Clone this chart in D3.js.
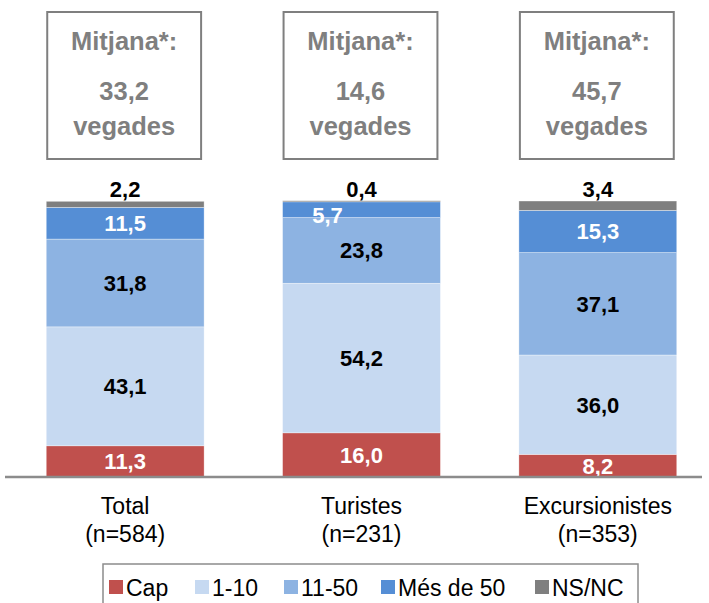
<!DOCTYPE html>
<html>
<head>
<meta charset="utf-8">
<script src="https://cdn.jsdelivr.net/npm/d3@7"></script>
<style>
body { margin: 0; background: #fff; }
text { font-family: "Liberation Sans", Arial, sans-serif; }
</style>
</head>
<body>
<div id="container"></div>
<script>
// data
var groups = ["Total", "Turistes", "Excursionistes"];
var sizes = ["(n=584)", "(n=231)", "(n=353)"];
var means = ["33,2", "14,6", "45,7"];
var seriesNames = ["Cap", "1-10", "11-50", "Més de 50", "NS/NC"];
var colors = ["#C0504D", "#C6D9F1", "#8DB3E2", "#558ED5", "#7F7F7F"];
var cap = [11.3, 16.0, 8.2];
var d1_10 = [43.1, 54.2, 36.0];
var d11_50 = [31.8, 23.8, 37.1];
var mes50 = [11.5, 5.7, 15.3];
var nsnc = [2.2, 0.4, 3.4];
var labelColors = ["#fff", "#000", "#000", "#fff", "#000"];

var width = 709, height = 603;
var svg = d3.select("#container").append("svg")
	.attr("width", width)
	.attr("height", height);

var x = d3.scaleBand().domain(groups).range([7, 716]).paddingInner(0.332).paddingOuter(0.166);
var y = d3.scaleLinear().domain([0, 100]).range([477, 201]);

var table = groups.map(function(g, i) {
	return {group: g, "Cap": cap[i], "1-10": d1_10[i], "11-50": d11_50[i], "Més de 50": mes50[i], "NS/NC": nsnc[i]};
});
var stacked = d3.stack().keys(seriesNames)(table);
var fmt = function(v) { return d3.format(".1f")(v).replace(".", ","); };

// bars
stacked.forEach(function(layer, li) {
	svg.append("g").selectAll("rect").data(layer).enter()
		.append("rect")
		.attr("x", function(d) { return x(d.data.group); })
		.attr("width", x.bandwidth())
		.attr("y", function(d) { return y(d[1]); })
		.attr("height", function(d) { return y(d[0]) - y(d[1]); })
		.style("fill", colors[li])
		.style("stroke", "#fff")
		.style("stroke-width", 0.6)
		.style("stroke-opacity", 0.6);
});

// value labels
stacked.forEach(function(layer, li) {
	svg.append("g").selectAll("text").data(layer).enter()
		.append("text")
		.attr("x", function(d) {
			var cx = x(d.data.group) + x.bandwidth() / 2;
			// small segment in Turistes: label sits to the left
			if (li == 3 && d[1] - d[0] < 8) cx -= 34;
			return cx;
		})
		.attr("y", function(d) {
			if (li == 4) return y(d[1]) - 4;
			var mid = (y(d[0]) + y(d[1])) / 2;
			if (li == 3 && d[1] - d[0] < 8) return mid + 13;
			return mid + 8;
		})
		.attr("text-anchor", "middle")
		.style("font-size", "22px")
		.style("font-weight", "bold")
		.style("fill", labelColors[li])
		.text(function(d) { return fmt(d[1] - d[0]); });
});

// axis line
svg.append("line")
	.attr("x1", 5).attr("x2", 702)
	.attr("y1", y(0)).attr("y2", y(0))
	.style("stroke", "#8c8c8c")
	.style("stroke-width", 2.5);

// category labels
var cat = svg.append("g").selectAll("g").data(groups).enter().append("g");
cat.append("text")
	.attr("x", function(d) { return x(d) + x.bandwidth() / 2; })
	.attr("y", 514)
	.attr("text-anchor", "middle")
	.style("font-size", "23px")
	.text(function(d) { return d; });
cat.append("text")
	.attr("x", function(d) { return x(d) + x.bandwidth() / 2; })
	.attr("y", 542)
	.attr("text-anchor", "middle")
	.style("font-size", "23px")
	.text(function(d, i) { return sizes[i]; });

// mean boxes
var box = svg.append("g").selectAll("g").data(groups).enter().append("g");
box.append("rect")
	.attr("x", function(d) { return x(d) + 1; })
	.attr("y", 12)
	.attr("width", x.bandwidth() - 4)
	.attr("height", 147)
	.style("fill", "#fff")
	.style("stroke", "#7f7f7f")
	.style("stroke-width", 2);
[["Mitjana*:", 50], [null, 100], ["vegades", 135]].forEach(function(row) {
	box.append("text")
		.attr("x", function(d) { return x(d) + x.bandwidth() / 2 - 1; })
		.attr("y", row[1])
		.attr("text-anchor", "middle")
		.style("font-size", "25.5px")
		.style("font-weight", "bold")
		.style("fill", "#7f7f7f")
		.text(function(d, i) { return row[0] == null ? means[i] : row[0]; });
});

// legend
svg.append("rect")
	.attr("x", 103).attr("y", 564)
	.attr("width", 535).attr("height", 50)
	.style("fill", "#fff")
	.style("stroke", "#8c8c8c")
	.style("stroke-width", 1.5);
var legX = [109, 195, 284, 381, 535];
var leg = svg.append("g").selectAll("g").data(seriesNames).enter().append("g")
	.attr("transform", function(d, i) { return "translate(" + legX[i] + ",580)"; });
leg.append("rect")
	.attr("width", 14).attr("height", 14)
	.style("fill", function(d, i) { return colors[i]; });
leg.append("text")
	.attr("x", 17).attr("y", 16)
	.style("font-size", "23px")
	.text(function(d) { return d; });
</script>
</body>
</html>
